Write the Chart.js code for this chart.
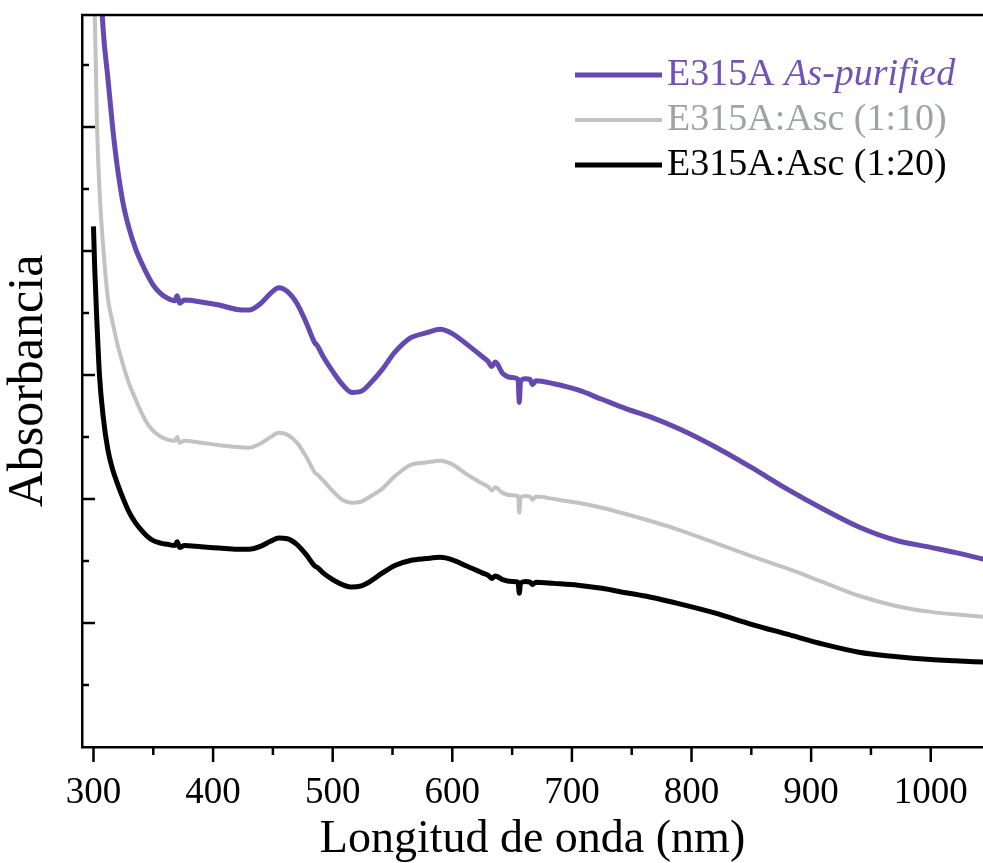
<!DOCTYPE html>
<html>
<head>
<meta charset="utf-8">
<title>Absorbancia E315A</title>
<script src="https://cdn.jsdelivr.net/npm/chart.js@4.4.1/dist/chart.umd.min.js"></script>
<style>
  html, body { margin: 0; padding: 0; background: #fff; }
  canvas { display: block; }
</style>
</head>
<body>
<canvas id="myChart" width="983" height="863"></canvas>
<script>
// wavelength grid (nm), shared by the three spectra
const wavelengths = [300, 301, 303, 305, 308, 312, 316, 320, 325, 330, 335, 340, 345, 350, 356, 362, 368, 370, 372, 376,
  390, 405, 420, 430, 440, 448, 455, 462, 470, 478, 485, 487, 492, 500, 508, 516, 524, 532, 541, 552,
  565, 578, 590, 600, 612, 625, 630, 633, 636, 642, 650, 655, 656, 657, 661, 665, 667, 670, 685, 705,
  725, 745, 765, 790, 820, 850, 880, 910, 940, 970, 1000, 1020, 1044];

// E315A as-purified
const asPurified = [1.70, 1.60, 1.42, 1.28, 1.16, 1.08, 1.00, 0.935, 0.875, 0.835, 0.805, 0.782, 0.762, 0.745, 0.732, 0.724, 0.720, 0.728, 0.716, 0.721,
  0.718, 0.713, 0.706, 0.705, 0.716, 0.732, 0.741, 0.735, 0.716, 0.684, 0.652, 0.648, 0.630, 0.606, 0.585, 0.572, 0.574, 0.588, 0.608, 0.637,
  0.660, 0.668, 0.674, 0.667, 0.650, 0.630, 0.622, 0.614, 0.621, 0.603, 0.596, 0.593, 0.556, 0.590, 0.594, 0.593, 0.585, 0.591, 0.586, 0.576,
  0.561, 0.546, 0.533, 0.513, 0.484, 0.451, 0.416, 0.384, 0.355, 0.334, 0.322, 0.314, 0.303];

// E315A:Asc (1:10)
const asc1to10 = [1.35, 1.19, 1.00, 0.90, 0.81, 0.725, 0.685, 0.650, 0.615, 0.585, 0.562, 0.540, 0.522, 0.510, 0.501, 0.496, 0.494, 0.500, 0.491, 0.494,
  0.491, 0.487, 0.484, 0.483, 0.490, 0.500, 0.507, 0.504, 0.491, 0.468, 0.443, 0.440, 0.430, 0.413, 0.399, 0.394, 0.396, 0.405, 0.416, 0.437,
  0.455, 0.459, 0.462, 0.456, 0.440, 0.425, 0.420, 0.414, 0.419, 0.410, 0.406, 0.405, 0.378, 0.403, 0.405, 0.404, 0.399, 0.404, 0.400, 0.394,
  0.386, 0.376, 0.365, 0.350, 0.329, 0.308, 0.288, 0.266, 0.244, 0.228, 0.218, 0.214, 0.210];

// E315A:Asc (1:20)
const asc1to20 = [0.84, 0.774, 0.68, 0.60, 0.535, 0.48, 0.448, 0.425, 0.400, 0.378, 0.362, 0.350, 0.340, 0.333, 0.329, 0.327, 0.325, 0.331, 0.322, 0.325,
  0.323, 0.321, 0.319, 0.319, 0.324, 0.332, 0.337, 0.336, 0.327, 0.310, 0.292, 0.290, 0.281, 0.270, 0.262, 0.258, 0.260, 0.268, 0.280, 0.293,
  0.301, 0.304, 0.306, 0.302, 0.292, 0.281, 0.277, 0.272, 0.276, 0.270, 0.267, 0.266, 0.248, 0.264, 0.267, 0.266, 0.262, 0.266, 0.264, 0.261,
  0.256, 0.249, 0.242, 0.231, 0.216, 0.198, 0.182, 0.166, 0.153, 0.146, 0.141, 0.139, 0.137];

const xMajorTicks = [300, 400, 500, 600, 700, 800, 900, 1000];
const xMinorTicks = [350, 450, 550, 650, 750, 850, 950, 1050];
const yMajorTicks = [0.2, 0.4, 0.6, 0.8, 1.0];
const yMinorTicks = [0.1, 0.3, 0.5, 0.7, 0.9, 1.1];

const serif = "'Liberation Serif', 'Times New Roman', serif";

const series = [
  { label: "E315A", italic: "As-purified", data: asPurified, color: "#6548b0", text: "#7052b8", width: 5 },
  { label: "E315A:Asc (1:10)", data: asc1to10, color: "#c2c2c2", text: "#9ea4a4", width: 4 },
  { label: "E315A:Asc (1:20)", data: asc1to20, color: "#000000", text: "#000000", width: 5 },
];

const toPoints = vals => wavelengths.map((w, i) => ({ x: w, y: vals[i] }));

// frame extras: top border, inward y ticks, outward x ticks, legend
const framePlugin = {
  id: "frame",
  afterDraw(chart) {
    const { ctx, chartArea } = chart;
    const xs = chart.scales.x, ys = chart.scales.y;
    ctx.save();
    ctx.strokeStyle = "#000";
    ctx.lineWidth = 2.5;
    ctx.beginPath();
    ctx.moveTo(chartArea.left - 1, chartArea.top);
    ctx.lineTo(chartArea.right, chartArea.top);
    ctx.stroke();

    const yTick = (v, len) => {
      const y = Math.round(ys.getPixelForValue(v));
      ctx.beginPath();
      ctx.moveTo(chartArea.left, y);
      ctx.lineTo(chartArea.left + len, y);
      ctx.stroke();
    };
    yMajorTicks.forEach(v => yTick(v, 13));
    yMinorTicks.forEach(v => yTick(v, 7));

    const xTick = (v, len) => {
      const x = xs.getPixelForValue(v);
      if (x > chartArea.right) return;
      ctx.beginPath();
      ctx.moveTo(x, chartArea.bottom);
      ctx.lineTo(x, chartArea.bottom + len);
      ctx.stroke();
    };
    xMajorTicks.forEach(v => xTick(v, 15));
    xMinorTicks.forEach(v => xTick(v, 8));

    // legend
    const lx0 = 575, lx1 = 662, tx = 667, rows = [75, 120, 165];
    ctx.textBaseline = "middle";
    ctx.textAlign = "left";
    series.forEach((s, i) => {
      const y = rows[i];
      ctx.strokeStyle = s.color;
      ctx.lineWidth = s.width;
      ctx.beginPath();
      ctx.moveTo(lx0, y);
      ctx.lineTo(lx1, y);
      ctx.stroke();
      ctx.fillStyle = s.text;
      ctx.font = "38px " + serif;
      ctx.fillText(s.label, tx, y);
      if (s.italic) {
        const w = ctx.measureText(s.label + " ").width;
        ctx.font = "italic 38px " + serif;
        ctx.fillText(s.italic, tx + w, y);
      }
    });
    ctx.restore();
  }
};

const ctx = document.getElementById("myChart").getContext("2d");

const chart = new Chart(ctx, {
  type: "line",
  data: {
    datasets: series.map(s => ({
      label: s.label,
      data: toPoints(s.data),
      borderColor: s.color,
      borderWidth: s.width,
      pointRadius: 0,
      cubicInterpolationMode: "monotone",
      fill: false,
    })).reverse(),
  },
  options: {
    responsive: false,
    animation: false,
    layout: { padding: { top: 15, right: 0, left: 0, bottom: 0 } },
    plugins: { legend: { display: false }, tooltip: { enabled: false } },
    scales: {
      x: {
        type: "linear",
        min: 290.4,
        max: 1043.7,
        afterBuildTicks: scale => { scale.ticks = xMajorTicks.map(v => ({ value: v })); },
        afterFit: scale => {
          scale.height = 116;
          scale.paddingLeft = 0;
          scale.paddingRight = 0;
        },
        grid: { display: false },
        border: { display: true, color: "#000", width: 2.5 },
        ticks: {
          color: "#000",
          padding: 16,
          maxRotation: 0,
          autoSkip: false,
          font: { family: serif, size: 37 },
          callback: v => String(v),
        },
        title: {
          display: true,
          text: "Longitud de onda (nm)",
          color: "#000",
          padding: 0,
          font: { family: serif, size: 46, lineHeight: 1 },
        },
      },
      y: {
        min: 0,
        max: 1.181,
        afterFit: scale => {
          scale.width = 82;
          scale.paddingTop = 0;
          scale.paddingBottom = 0;
        },
        grid: { display: false },
        border: { display: true, color: "#000", width: 2.5 },
        ticks: { display: false },
        title: {
          display: true,
          text: "Absorbancia",
          color: "#000",
          padding: { top: 4 },
          font: { family: serif, size: 50, lineHeight: 1 },
        },
      },
    },
  },
  plugins: [framePlugin],
});
</script>
</body>
</html>
